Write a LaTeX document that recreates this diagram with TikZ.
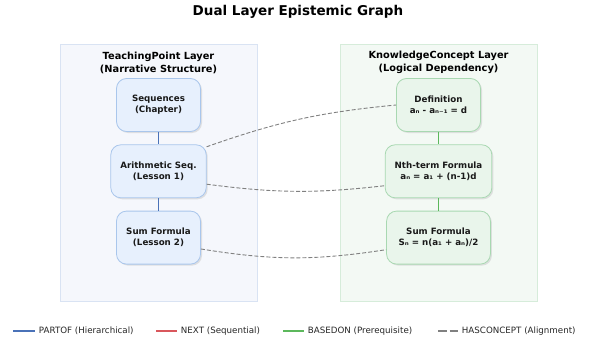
\documentclass[tikz,border=0pt]{standalone}
\usepackage{fontspec}
\setmainfont{DejaVu Sans}
\usetikzlibrary{positioning,shadows}

\definecolor{TPFill}     {HTML}{E7F0FD}
\definecolor{TPDraw}     {HTML}{A9C6EC}
\definecolor{TPPanel}    {HTML}{F5F7FC}
\definecolor{TPPanelDraw}{HTML}{D9E3F3}
\definecolor{KCFill}     {HTML}{E9F5EB}
\definecolor{KCDraw}     {HTML}{A8D8B1}
\definecolor{KCPanel}    {HTML}{F3F9F4}
\definecolor{KCPanelDraw}{HTML}{D6ECDA}
\definecolor{PartOf}     {HTML}{4A72B8}
\definecolor{NextRel}    {HTML}{D9575C}
\definecolor{BasedOn}    {HTML}{5CB85C}
\definecolor{HasConcept} {HTML}{808080}

\begin{document}
\begin{tikzpicture}[x=1pt,y=-1pt,node distance=12.5pt,
  panel/.style={line width=0.8pt},
  header/.style={align=center,font=\fontsize{9.8}{13}\selectfont\bfseries},
  nodebox/.style={line width=0.8pt,rounded corners=10pt,
              minimum width=84pt,minimum height=53pt,inner xsep=9.5pt,
              align=center,font=\fontsize{8.7}{11}\selectfont\bfseries,
              text=black!90,
              drop shadow={shadow xshift=1.5pt,shadow yshift=-1.5pt,
                           fill=black!22}},
  tpbox/.style={nodebox,draw=TPDraw,fill=TPFill},
  kcbox/.style={nodebox,draw=KCDraw,fill=KCFill},
  partof/.style={PartOf,line width=1.3pt},
  nextrel/.style={NextRel,line width=1.3pt},
  basedon/.style={BasedOn,line width=1.3pt},
  hasconcept/.style={HasConcept,line width=0.9pt,dash pattern=on 4pt off 2pt},
  legend/.style={right,text=black!85,font=\fontsize{8.7}{10}\selectfont}]
  \useasboundingbox (0,0) rectangle (592,345);

  \node[font=\fontsize{13.5}{16}\selectfont\bfseries] (title) at (298,12)
        {Dual Layer Epistemic Graph};

  % the two layers
  \filldraw[panel,fill=TPPanel,draw=TPPanelDraw] (60,44) rectangle (257,301);
  \filldraw[panel,fill=KCPanel,draw=KCPanelDraw] (340,44) rectangle (537,301);
  \node[header] (tphead) at (158.5,62.5)
        {TeachingPoint Layer\\(Narrative Structure)};
  \node[header] (kchead) at (438.5,62.5)
        {KnowledgeConcept Layer\\(Logical Dependency)};

  % teaching points
  \node[tpbox] (seq) at (158.5,105) {Sequences\\(Chapter)};
  \node[tpbox,below=of seq] (arith) {Arithmetic Seq.\\(Lesson 1)};
  \node[tpbox,below=of arith] (sumtp) {Sum Formula\\(Lesson 2)};

  % knowledge concepts
  \node[kcbox] (def) at (438.5,105) {Definition\\aₙ - aₙ₋₁ = d};
  \node[kcbox,below=of def] (nth) {Nth-term Formula\\aₙ = a₁ + (n-1)d};
  \node[kcbox,below=of nth,inner xsep=12pt] (sumkc)
        {Sum Formula\\Sₙ = n(a₁ + aₙ)/2};

  \draw[partof] (seq) -- (arith);
  \draw[partof] (arith) -- (sumtp);
  \draw[basedon] (def) -- (nth);
  \draw[basedon] (nth) -- (sumkc);

  % alignment between the layers
  \draw[hasconcept] (arith.27) to[bend left=7] (def.west);
  \draw[hasconcept] (arith.-15) to[bend right=7] (nth.195);
  \draw[hasconcept] (sumtp.-15) to[bend right=9] (sumkc.193);

  % legend
  \draw[partof] (13,331) -- (35,331)
        node[legend] (lgpartof) {PARTOF (Hierarchical)};
  \draw[nextrel] (156,331) -- (177,331)
        node[legend] (lgnext) {NEXT (Sequential)};
  \draw[basedon] (283,331) -- (304,331)
        node[legend] (lgbasedon) {BASEDON (Prerequisite)};
  \draw[hasconcept,line width=1.2pt,dash pattern=on 8.5pt off 3pt]
        (438,331) -- (458,331)
        node[legend] (lghasconcept) {HASCONCEPT (Alignment)};
\end{tikzpicture}
\end{document}
